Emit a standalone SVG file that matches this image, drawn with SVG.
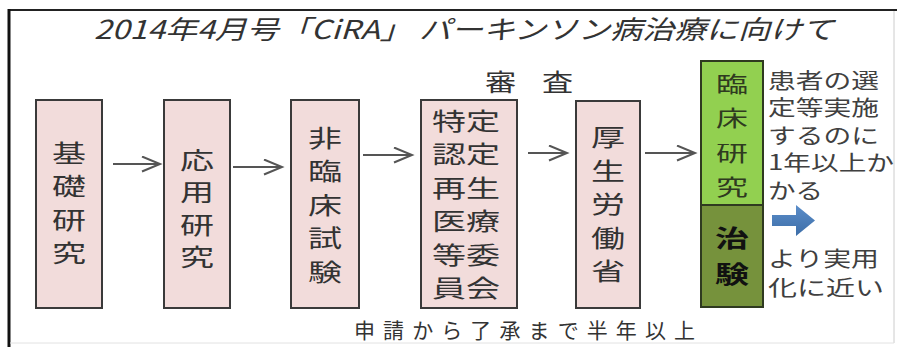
<svg xmlns="http://www.w3.org/2000/svg" width="897" height="347" viewBox="0 0 897 347">
<style>
.jp{font-family:"Noto Sans CJK JP","Noto Sans CJK SC",sans-serif;}
.box{fill:#f2dcdb;stroke:#3a3a3a;stroke-width:2;}
.bt{font-size:24px;fill:#333;text-anchor:middle;}
.gt{font-size:22px;fill:#2f3a20;text-anchor:middle;}
.gb{font-size:24px;font-weight:bold;fill:#111;text-anchor:middle;}
.rt{font-size:21px;fill:#404040;}
.conn{stroke:#555;stroke-width:2;fill:none;marker-end:url(#chev);}
</style>
<defs>
<marker id="chev" markerUnits="userSpaceOnUse" markerWidth="22" markerHeight="18" refX="19" refY="8" orient="auto" viewBox="0 0 22 18">
<path d="M1,0.5 L19,8 L1,15.5" fill="none" stroke="#555" stroke-width="2"/>
</marker>
<linearGradient id="blue" x1="0" y1="0" x2="0" y2="1">
<stop offset="0" stop-color="#5b8dc9"/>
<stop offset="1" stop-color="#3d6ea8"/>
</linearGradient>
</defs>
<rect width="897" height="347" fill="#fff"/>
<g id="frame">
<line x1="8" y1="10" x2="897" y2="10" stroke="#222" stroke-width="2"/>
<line x1="9" y1="9" x2="9" y2="347" stroke="#111" stroke-width="3"/>
<line x1="894" y1="11" x2="894" y2="343" stroke="#ccc" stroke-width="1"/>
<line x1="10" y1="343" x2="894" y2="343" stroke="#e2e2e2" stroke-width="1"/>
</g>
<g id="title">
<text class="jp" x="94" y="39" font-size="26" font-style="italic" fill="#333" textLength="740" lengthAdjust="spacingAndGlyphs">2014年4月号「CiRA」 パーキンソン病治療に向けて</text>
</g>
<g id="connectors">
<line class="conn" x1="113" y1="164" x2="160" y2="164"/>
<line class="conn" x1="233" y1="167" x2="282" y2="167"/>
<line class="conn" x1="363" y1="155" x2="412" y2="155"/>
<line class="conn" x1="528" y1="153" x2="567" y2="153"/>
<line class="conn" x1="645" y1="153" x2="695" y2="153"/>
</g>
<g id="node-kiso">
<rect class="box" x="36" y="100" width="66" height="208"/>
<text class="jp bt" x="69" y="162" textLength="34" lengthAdjust="spacingAndGlyphs">基</text>
<text class="jp bt" x="69" y="195" textLength="34" lengthAdjust="spacingAndGlyphs">礎</text>
<text class="jp bt" x="69" y="228.5" textLength="34" lengthAdjust="spacingAndGlyphs">研</text>
<text class="jp bt" x="69" y="262" textLength="34" lengthAdjust="spacingAndGlyphs">究</text>
</g>
<g id="node-oyo">
<rect class="box" x="164" y="100" width="66" height="208"/>
<text class="jp bt" x="197" y="169" textLength="34" lengthAdjust="spacingAndGlyphs">応</text>
<text class="jp bt" x="197" y="201" textLength="34" lengthAdjust="spacingAndGlyphs">用</text>
<text class="jp bt" x="197" y="234" textLength="34" lengthAdjust="spacingAndGlyphs">研</text>
<text class="jp bt" x="197" y="266" textLength="34" lengthAdjust="spacingAndGlyphs">究</text>
</g>
<g id="node-hirinsho">
<rect class="box" x="291" y="100" width="68" height="208"/>
<text class="jp bt" x="325" y="146.5" textLength="34" lengthAdjust="spacingAndGlyphs">非</text>
<text class="jp bt" x="325" y="180" textLength="34" lengthAdjust="spacingAndGlyphs">臨</text>
<text class="jp bt" x="325" y="213.7" textLength="34" lengthAdjust="spacingAndGlyphs">床</text>
<text class="jp bt" x="325" y="247.3" textLength="34" lengthAdjust="spacingAndGlyphs">試</text>
<text class="jp bt" x="325" y="281" textLength="34" lengthAdjust="spacingAndGlyphs">験</text>
</g>
<g id="node-iinkai">
<rect class="box" x="421" y="100" width="96" height="208"/>
<text class="jp bt" x="466" y="130" textLength="68" lengthAdjust="spacingAndGlyphs">特定</text>
<text class="jp bt" x="466" y="163.4" textLength="68" lengthAdjust="spacingAndGlyphs">認定</text>
<text class="jp bt" x="466" y="196.8" textLength="68" lengthAdjust="spacingAndGlyphs">再生</text>
<text class="jp bt" x="466" y="230.2" textLength="68" lengthAdjust="spacingAndGlyphs">医療</text>
<text class="jp bt" x="466" y="263.6" textLength="68" lengthAdjust="spacingAndGlyphs">等委</text>
<text class="jp bt" x="466" y="297" textLength="68" lengthAdjust="spacingAndGlyphs">員会</text>
</g>
<g id="node-kosei">
<rect class="box" x="576" y="101" width="64" height="207"/>
<text class="jp bt" x="608" y="146" textLength="34" lengthAdjust="spacingAndGlyphs">厚</text>
<text class="jp bt" x="608" y="179.5" textLength="34" lengthAdjust="spacingAndGlyphs">生</text>
<text class="jp bt" x="608" y="213" textLength="34" lengthAdjust="spacingAndGlyphs">労</text>
<text class="jp bt" x="608" y="246.5" textLength="34" lengthAdjust="spacingAndGlyphs">働</text>
<text class="jp bt" x="608" y="280" textLength="34" lengthAdjust="spacingAndGlyphs">省</text>
</g>
<g id="label-shinsa">
<text class="jp" y="91.5" font-size="24" fill="#333" transform="scale(1.3 1)" x="373 396 417">審 査</text>
</g>
<g id="node-rinsho">
<rect x="701" y="61" width="62" height="144" fill="#92d050" stroke="#2f3a20" stroke-width="2"/>
<text class="jp gt" x="732" y="92" textLength="32" lengthAdjust="spacingAndGlyphs">臨</text>
<text class="jp gt" x="732" y="126" textLength="32" lengthAdjust="spacingAndGlyphs">床</text>
<text class="jp gt" x="732" y="161" textLength="32" lengthAdjust="spacingAndGlyphs">研</text>
<text class="jp gt" x="732" y="195" textLength="32" lengthAdjust="spacingAndGlyphs">究</text>
</g>
<g id="node-chiken">
<rect x="701" y="205" width="62" height="102" fill="#76923c" stroke="#2f3a20" stroke-width="2"/>
<text class="jp gb" x="732" y="247" textLength="34" lengthAdjust="spacingAndGlyphs">治</text>
<text class="jp gb" x="732" y="283" textLength="34" lengthAdjust="spacingAndGlyphs">験</text>
</g>
<g id="note-top">
<text class="jp rt" x="768" y="87.5" textLength="111" lengthAdjust="spacingAndGlyphs">患者の選</text>
<text class="jp rt" x="768" y="115" textLength="111" lengthAdjust="spacingAndGlyphs">定等実施</text>
<text class="jp rt" x="768" y="142.5" textLength="111" lengthAdjust="spacingAndGlyphs">するのに</text>
<text class="jp rt" x="768" y="170" textLength="126" lengthAdjust="spacingAndGlyphs">1年以上か</text>
<text class="jp rt" x="768" y="197.5" textLength="55" lengthAdjust="spacingAndGlyphs">かる</text>
</g>
<g id="blue-arrow">
<polygon points="772,215 796,215 796,205 815,220.5 796,236 796,226 772,226" fill="url(#blue)"/>
</g>
<g id="note-bottom">
<text class="jp rt" x="768" y="266" textLength="111" lengthAdjust="spacingAndGlyphs">より実用</text>
<text class="jp rt" x="768" y="295" textLength="116" lengthAdjust="spacingAndGlyphs">化に近い</text>
</g>
<g id="label-period">
<text class="jp" x="354" y="337.5" font-size="21" fill="#333" textLength="341">申請から了承まで半年以上</text>
</g>
</svg>
